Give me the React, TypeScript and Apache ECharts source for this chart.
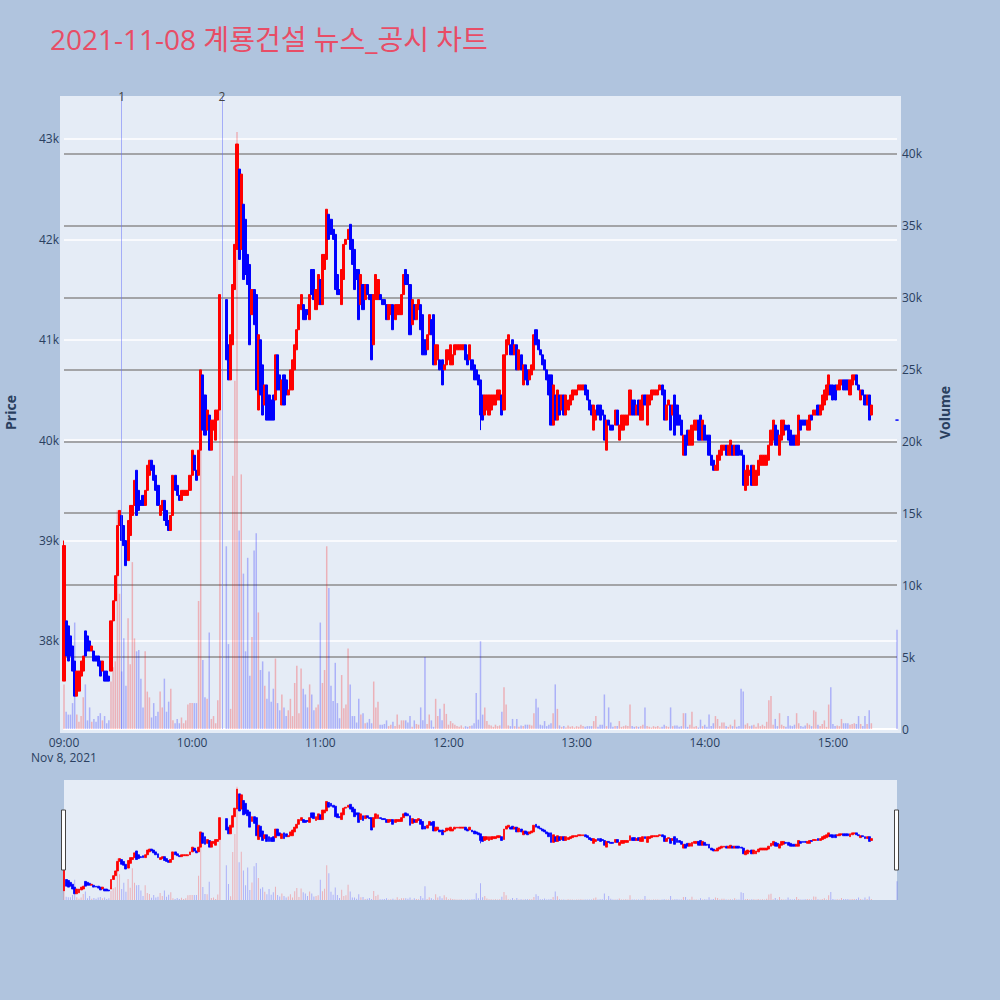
import { useEffect, useRef } from 'react';
import * as echarts from 'echarts';

const TITLE = '2021-11-08 계룡건설 뉴스_공시 차트';
const DATE_LABEL = 'Nov 8, 2021';

// one candle per minute after 09:00 (index = minute), null = VI halt
const opens = [
  37600, 38200, 38150, 38050, 37950, 37800, 37450, 37500, 37650, 37700,
  38100, 38050, 38000, 37900, 37900, 37850, 37850, 37800, 37700, 37700,
  37700, 37650, 37700, 38200, 38400, 38650, 39150, 39250, 39150, 39000,
  38800, 39050, 39250, 39350, 39700, 39500, 39400, 39450, 39350, 39500,
  39650, 39800, 39750, 39650, 39550, 39250, 39300, 39400, 39300, 39200,
  39100, 39250, 39650, 39550, 39450, 39400, 39450, 39450, 39450, 39500,
  39650, 39850, 39700, 39650, 39900, 40650, 40450, 40100, 40250, 39900,
  40100, 40000, 40200, 40300, null, null, 41400, 40950, 40600, 40950,
  41500, 41900, 42700, 41900, 42350, 42200, 41850, 41750, 41250, 41500,
  41450, 40300, 41000, 40750, 40350, 40550, 40450, 40400, 40450, 40400,
  40850, 40650, 40350, 40650, 40600, 40450, 40500, 40500, 40700, 40900,
  41100, 41300, 41350, 41300, 41300, 41200, 41700, 41700, 41300, 41350,
  41600, 41350, 41700, 41800, 42250, 42200, 42100, 42050, 41650, 41500,
  41350, 41600, 41950, 42000, 42150, 42000, 41900, 41700, 41700, 41350,
  41550, 41400, 41550, 41450, 41450, 40950, 41400, 41400, 41450, 41400,
  41400, 41350, 41200, 41250, 41350, 41200, 41250, 41250, 41250, 41450,
  41700, 41650, 41550, 41150, 41350, 41200, 41300, 41350, 41250, 41000,
  40900, 41050, 41200, 41250, 40750, 40800, 40800, 40800, 40700, 40750,
  40800, 40750, 40750, 40850, 40900, 40900, 40900, 40900, 40950, 40850,
  40800, 40800, 40750, 40700, 40650, 40600, 40450, 40250, 40300, 40250,
  40300, 40350, 40350, 40400, 40400, 40450, 40300, 40850, 40950, 40950,
  41000, 40850, 40950, 40700, 40850, 40550, 40750, 40700, 40600, 40650,
  40700, 41100, 41000, 40900, 40850, 40800, 40700, 40650, 40650, 40150,
  40450, 40200, 40450, 40300, 40450, 40250, 40300, 40350, 40400, 40450,
  40450, 40500, 40500, 40500, 40550, 40500, 40400, 40350, 40100, 40200,
  40350, 40350, 40300, 40250, 39900, 40200, 40150, 40150, 40150, 40300,
  40000, 40100, 40100, 40150, 40150, 40250, 40400, 40400, 40250, 40400,
  40200, 40200, 40450, 40150, 40350, 40400, 40450, 40450, 40450, 40500,
  40550, 40500, 40200, 40350, 40350, 40250, 40450, 40350, 40250, 40200,
  39850, 40050, 40100, 39950, 39950, 40100, 40100, 40200, 40250, 40000,
  40150, 40050, 40050, 39850, 39800, 39700, 39700, 39800, 39850, 39900,
  39950, 39850, 39850, 39950, 39850, 39950, 39950, 39900, 39850, 39500,
  39550, 39650, 39750, 39550, 39550, 39650, 39750, 39750, 39750, 39750,
  39800, 39950, 40000, 40150, 40100, 39850, 40000, 40050, 40150, 40150,
  40100, 40050, 40050, 39950, 39950, 40200, 40200, 40200, 40100, 40100,
  40250, 40250, 40250, 40350, 40250, 40300, 40350, 40400, 40450, 40550,
  40550, 40550, 40500, 40500, 40550, 40600, 40600, 40600, 40450, 40550,
  40600, 40650, 40550, 40400, 40500, 40450, 40350, 40450, 40250,
];

const closes = [
  38950, 37850, 37800, 37850, 37700, 37450, 37700, 37700, 37800, 37850,
  37850, 37900, 37900, 37950, 37800, 37800, 37750, 37650, 37800, 37600,
  37600, 37600, 38200, 38400, 38650, 39150, 39300, 39000, 38950, 38750,
  39200, 39350, 39350, 39600, 39250, 39300, 39350, 39350, 39500, 39750,
  39800, 39700, 39600, 39500, 39350, 39350, 39400, 39200, 39150, 39100,
  39250, 39650, 39500, 39450, 39400, 39500, 39500, 39500, 39500, 39650,
  39900, 39700, 39600, 39900, 40700, 40100, 40050, 40300, 39900, 40200,
  40200, 40300, 40300, 41450, null, null, 40800, 40600, 41050, 41550,
  41950, 42950, 41800, 42650, 41600, 41650, 41550, 40950, 41500, 41150,
  40500, 41050, 40450, 40250, 40550, 40200, 40200, 40200, 40200, 40850,
  40500, 40500, 40600, 40350, 40450, 40500, 40700, 40800, 40950, 41100,
  41350, 41450, 41200, 41200, 41250, 41450, 41450, 41400, 41500, 41650,
  41350, 41850, 41850, 42300, 42000, 42050, 42000, 41500, 41450, 41450,
  41700, 41950, 42000, 42100, 41900, 41750, 41500, 41600, 41200, 41650,
  41300, 41550, 41450, 41400, 40800, 41450, 41650, 41600, 41400, 41350,
  41350, 41200, 41350, 41350, 41100, 41350, 41350, 41350, 41450, 41650,
  41550, 41550, 41050, 41400, 41200, 41350, 41400, 41100, 40850, 40850,
  41050, 41250, 41050, 40750, 40950, 40950, 40700, 40550, 40750, 40900,
  40900, 40950, 40850, 40950, 40950, 40950, 40950, 40950, 40800, 40750,
  40950, 40700, 40600, 40600, 40550, 40250, 40200, 40450, 40450, 40450,
  40450, 40450, 40450, 40500, 40500, 40250, 40850, 41000, 41050, 40850,
  40850, 40950, 40700, 40900, 40700, 40750, 40600, 40550, 40700, 40750,
  41050, 40950, 40900, 40850, 40750, 40700, 40600, 40450, 40150, 40550,
  40200, 40500, 40250, 40450, 40250, 40450, 40400, 40450, 40500, 40500,
  40500, 40550, 40550, 40550, 40450, 40400, 40300, 40250, 40350, 40300,
  40250, 40200, 40250, 40000, 40200, 40150, 40100, 40100, 40300, 40150,
  40150, 40250, 40250, 40250, 40250, 40500, 40250, 40250, 40350, 40250,
  40400, 40450, 40350, 40450, 40450, 40500, 40500, 40500, 40500, 40550,
  40450, 40200, 40350, 40400, 40100, 40350, 40050, 40150, 40150, 40050,
  40050, 39850, 39950, 40100, 40150, 40200, 40200, 40000, 40000, 40200,
  40000, 40000, 39850, 39750, 39700, 39750, 39850, 39900, 39950, 39950,
  39850, 39950, 40000, 39850, 39950, 39850, 39850, 39850, 39550, 39700,
  39750, 39700, 39550, 39750, 39700, 39800, 39850, 39850, 39850, 39850,
  39950, 40100, 40200, 39950, 39950, 40050, 40200, 40200, 40100, 40000,
  39950, 39950, 39950, 40050, 40250, 40100, 40150, 40150, 40200, 40250,
  40200, 40300, 40300, 40250, 40350, 40450, 40500, 40550, 40650, 40450,
  40400, 40400, 40550, 40600, 40600, 40500, 40500, 40500, 40600, 40650,
  40650, 40550, 40500, 40500, 40450, 40350, 40450, 40200, 40350,
];

const volumes = [
  3100, 1200, 1000, 1000, 1800, 7400, 1000, 500, 900, 2200,
  3100, 600, 1500, 500, 700, 500, 900, 1100, 600, 900,
  400, 600, 3300, 4300, 4700, 15200, 9400, 4000, 6300, 3000,
  7700, 4500, 11600, 6300, 5400, 5500, 3500, 1500, 5400, 2600,
  2200, 800, 1800, 900, 1200, 2600, 1500, 3500, 1200, 1900,
  2800, 600, 400, 700, 400, 800, 400, 600, 1700, 1800,
  1800, 1800, 1800, 8900, 24900, 4800, 2200, 2100, 6700, 700,
  900, 400, 2000, 30200, null, null, 12700, 5900, 1400, 17600,
  24200, 41500, 13800, 17700, 10800, 5400, 11900, 3700, 6400, 12400,
  13600, 8100, 4100, 4700, 3000, 2100, 4000, 1900, 2800, 4900,
  1800, 1300, 2400, 1500, 900, 1300, 2100, 900, 3200, 4400,
  1100, 4200, 2800, 2400, 1500, 3100, 2400, 1300, 1500, 1700,
  7400, 3200, 4100, 12700, 9800, 3000, 1950, 4600, 1800, 750,
  3750, 1450, 1700, 5600, 3100, 900, 900, 450, 2100, 1000,
  1100, 400, 450, 700, 400, 3300, 1500, 1900, 300, 300,
  350, 600, 200, 300, 500, 200, 1000, 300, 600, 600,
  600, 450, 900, 150, 600, 350, 300, 1500, 600, 5000,
  350, 1000, 600, 150, 2100, 900, 1400, 600, 1750, 1050,
  300, 550, 400, 300, 200, 150, 250, 100, 200, 150,
  200, 250, 400, 2500, 650, 6100, 1000, 1500, 550, 300,
  250, 150, 300, 200, 250, 1200, 2900, 1700, 250, 200,
  700, 200, 700, 150, 250, 200, 300, 300, 300, 250,
  1100, 2100, 1500, 300, 250, 550, 200, 300, 400, 1100,
  3100, 1400, 250, 150, 200, 100, 250, 150, 200, 100,
  200, 150, 300, 200, 150, 200, 200, 200, 550, 900,
  150, 300, 300, 2400, 200, 1500, 450, 150, 200, 200,
  550, 150, 200, 250, 200, 1700, 200, 150, 200, 150,
  200, 300, 1500, 200, 150, 100, 200, 150, 200, 100,
  150, 300, 200, 150, 1500, 200, 250, 250, 150, 200,
  1100, 1100, 150, 300, 1200, 150, 200, 100, 650, 200,
  300, 150, 1000, 200, 400, 900, 700, 200, 450, 450,
  200, 150, 300, 200, 650, 150, 200, 2800, 2600, 300,
  400, 200, 250, 300, 150, 400, 200, 300, 200, 500,
  2000, 2300, 300, 700, 200, 1100, 300, 200, 150, 900,
  250, 200, 300, 1100, 400, 200, 150, 250, 400, 300,
  200, 1300, 1200, 300, 200, 350, 600, 150, 1700, 2900,
  350, 200, 250, 200, 700, 400, 400, 400, 300, 350,
  400, 350, 900, 350, 200, 900, 350, 1300, 400,
];

// [minute, low, high] where the wick runs past the body
const wicks = [
  [0, 37600, 39000],
  [195, 40100, 40600],
];

// closing auction print at 15:30
const auctionMinute = 390;
const auctionPrice = 40200;
const auctionVolume = 6900;

// news / disclosure markers
const newsLabels = ['1', '2'];
const newsMinutes = [27, 74];

const priceMin = 37123;
const priceMax = 43428;
const volumeMax = 44000;

const FONT = '"Open Sans", "Noto Sans CJK KR", sans-serif';
const TEXT = '#2a3f5f';
const UP = '#ff0000';
const DOWN = '#0000ff';
const VOL_UP = 'rgba(255,0,0,0.25)';
const VOL_DOWN = 'rgba(0,0,255,0.25)';

const hhmm = (v: number) => {
  const h = 9 + Math.floor(v / 60);
  const m = v % 60;
  return String(h).padStart(2, '0') + ':' + String(m).padStart(2, '0');
};

export default function App() {
  const chartRef = useRef<HTMLDivElement>(null);

  useEffect(() => {
    document.body.style.margin = '0';
    const chart = echarts.init(chartRef.current, null, { renderer: 'svg' });

    const candles: number[][] = [];
    const bars: any[] = [];
    opens.forEach((o, i) => {
      const c = closes[i];
      if (o == null || c == null) return;
      const w = wicks.find((k) => k[0] === i);
      const low = w ? w[1] : Math.min(o, c);
      const high = w ? w[2] : Math.max(o, c);
      candles.push([i, o, c, low, high]);
      bars.push({ value: [i, volumes[i]], itemStyle: { color: c >= o ? VOL_UP : VOL_DOWN } });
    });
    candles.push([auctionMinute, auctionPrice, auctionPrice, auctionPrice, auctionPrice]);
    bars.push({ value: [auctionMinute, auctionVolume], itemStyle: { color: VOL_DOWN } });

    const candleStyle = {
      color: UP,
      color0: DOWN,
      borderColor: UP,
      borderColor0: DOWN,
      borderWidth: 1,
    };

    const option = {
      animation: false,
      backgroundColor: '#b0c4de',
      textStyle: { fontFamily: FONT },
      title: {
        text: TITLE,
        left: 45,
        top: 20,
        textStyle: { color: '#e84d66', fontSize: 28, fontWeight: 'normal', fontFamily: FONT },
      },
      graphic: [
        {
          type: 'rect',
          z: -100,
          silent: true,
          shape: { x: 60, y: 96, width: 841, height: 637 },
          style: { fill: '#e5ecf6' },
        },
        {
          type: 'rect',
          z: 100,
          shape: { x: 61.5, y: 810, width: 4, height: 60 },
          style: { fill: '#ffffff', stroke: '#444444', lineWidth: 1 },
        },
        {
          type: 'rect',
          z: 100,
          shape: { x: 894.5, y: 810, width: 4, height: 60 },
          style: { fill: '#ffffff', stroke: '#444444', lineWidth: 1 },
        },
      ],
      grid: [
        { left: 64, right: 103, top: 96, height: 633, show: true, backgroundColor: '#e5ecf6', borderWidth: 0, outerBoundsMode: 'none' },
        { left: 64, right: 103, top: 780, height: 120, show: true, backgroundColor: '#e5ecf6', borderWidth: 0, outerBoundsMode: 'none' },
      ],
      xAxis: [
        {
          type: 'value',
          gridIndex: 0,
          min: 0,
          max: 390,
          interval: 60,
          axisLine: { show: true, lineStyle: { color: '#ffffff', width: 2 } },
          axisTick: { show: false },
          splitLine: { show: false },
          axisLabel: {
            color: TEXT,
            fontSize: 12,
            fontFamily: FONT,
            margin: 6,
            lineHeight: 15,
            formatter: (v: number) => (v === 0 ? '09:00\n' + DATE_LABEL : v % 60 === 0 ? hhmm(v) : ''),
          },
        },
        { type: 'value', gridIndex: 1, min: 0, max: 390, show: false },
      ],
      yAxis: [
        {
          type: 'value',
          gridIndex: 0,
          position: 'left',
          min: priceMin,
          max: priceMax,
          minInterval: 1000,
          maxInterval: 1000,
          name: 'Price',
          nameLocation: 'middle',
          nameGap: 47,
          nameTextStyle: { color: TEXT, fontSize: 14, fontWeight: 'bold', fontFamily: FONT },
          axisLine: { show: false },
          axisTick: { show: false },
          axisLabel: {
            color: TEXT,
            fontSize: 12,
            fontFamily: FONT,
            margin: 5,
            showMinLabel: false,
            showMaxLabel: false,
            formatter: (v: number) => (v % 1000 === 0 ? v / 1000 + 'k' : ''),
          },
          splitLine: { show: true, showMinLine: false, showMaxLine: false, lineStyle: { color: '#ffffff', width: 1.5 } },
        },
        {
          type: 'value',
          gridIndex: 0,
          position: 'right',
          min: 0,
          max: volumeMax,
          interval: 5000,
          name: 'Volume',
          nameLocation: 'middle',
          nameGap: 40,
          nameTextStyle: { color: TEXT, fontSize: 14, fontWeight: 'bold', fontFamily: FONT },
          axisLine: { show: false },
          axisTick: { show: false },
          axisLabel: {
            color: TEXT,
            fontSize: 12,
            fontFamily: FONT,
            margin: 5,
            showMaxLabel: false,
            formatter: (v: number) => (v === 0 ? '0' : v % 5000 === 0 ? v / 1000 + 'k' : ''),
          },
          splitLine: { show: true, showMinLine: false, showMaxLine: false, lineStyle: { color: '#8c8c8c', width: 1.5 } },
        },
        { type: 'value', gridIndex: 1, min: priceMin, max: priceMax, show: false },
        { type: 'value', gridIndex: 1, min: 0, max: volumeMax, show: false },
      ],
      series: [
        {
          type: 'bar',
          xAxisIndex: 0,
          yAxisIndex: 1,
          z: 2,
          barWidth: 1.5,
          data: bars,
          silent: true,
        },
        {
          type: 'candlestick',
          xAxisIndex: 0,
          yAxisIndex: 0,
          z: 3,
          barWidth: 2.6,
          encode: { x: 0, y: [1, 2, 3, 4] },
          itemStyle: candleStyle,
          data: candles,
          silent: true,
          markLine: {
            silent: true,
            symbol: 'none',
            animation: false,
            lineStyle: { color: 'rgba(99,110,250,0.5)', width: 1, type: 'solid' },
            label: {
              show: true,
              position: 'end',
              distance: -6,
              color: '#444444',
              fontSize: 12,
              fontFamily: FONT,
              formatter: '{b}',
            },
            data: newsMinutes.map((m, k) => ({ name: newsLabels[k], xAxis: m })),
          },
        },
        {
          type: 'bar',
          xAxisIndex: 1,
          yAxisIndex: 3,
          z: 2,
          barWidth: 1,
          data: bars,
          silent: true,
        },
        {
          type: 'candlestick',
          xAxisIndex: 1,
          yAxisIndex: 2,
          z: 3,
          barWidth: 2.4,
          encode: { x: 0, y: [1, 2, 3, 4] },
          itemStyle: { ...candleStyle, borderWidth: 0.8 },
          data: candles,
          silent: true,
        },
      ],
    };

    chart.setOption(option);
    return () => {
      chart.dispose();
    };
  }, []);

  return <div ref={chartRef} style={{ width: '1000px', height: '1000px' }} />;
}
